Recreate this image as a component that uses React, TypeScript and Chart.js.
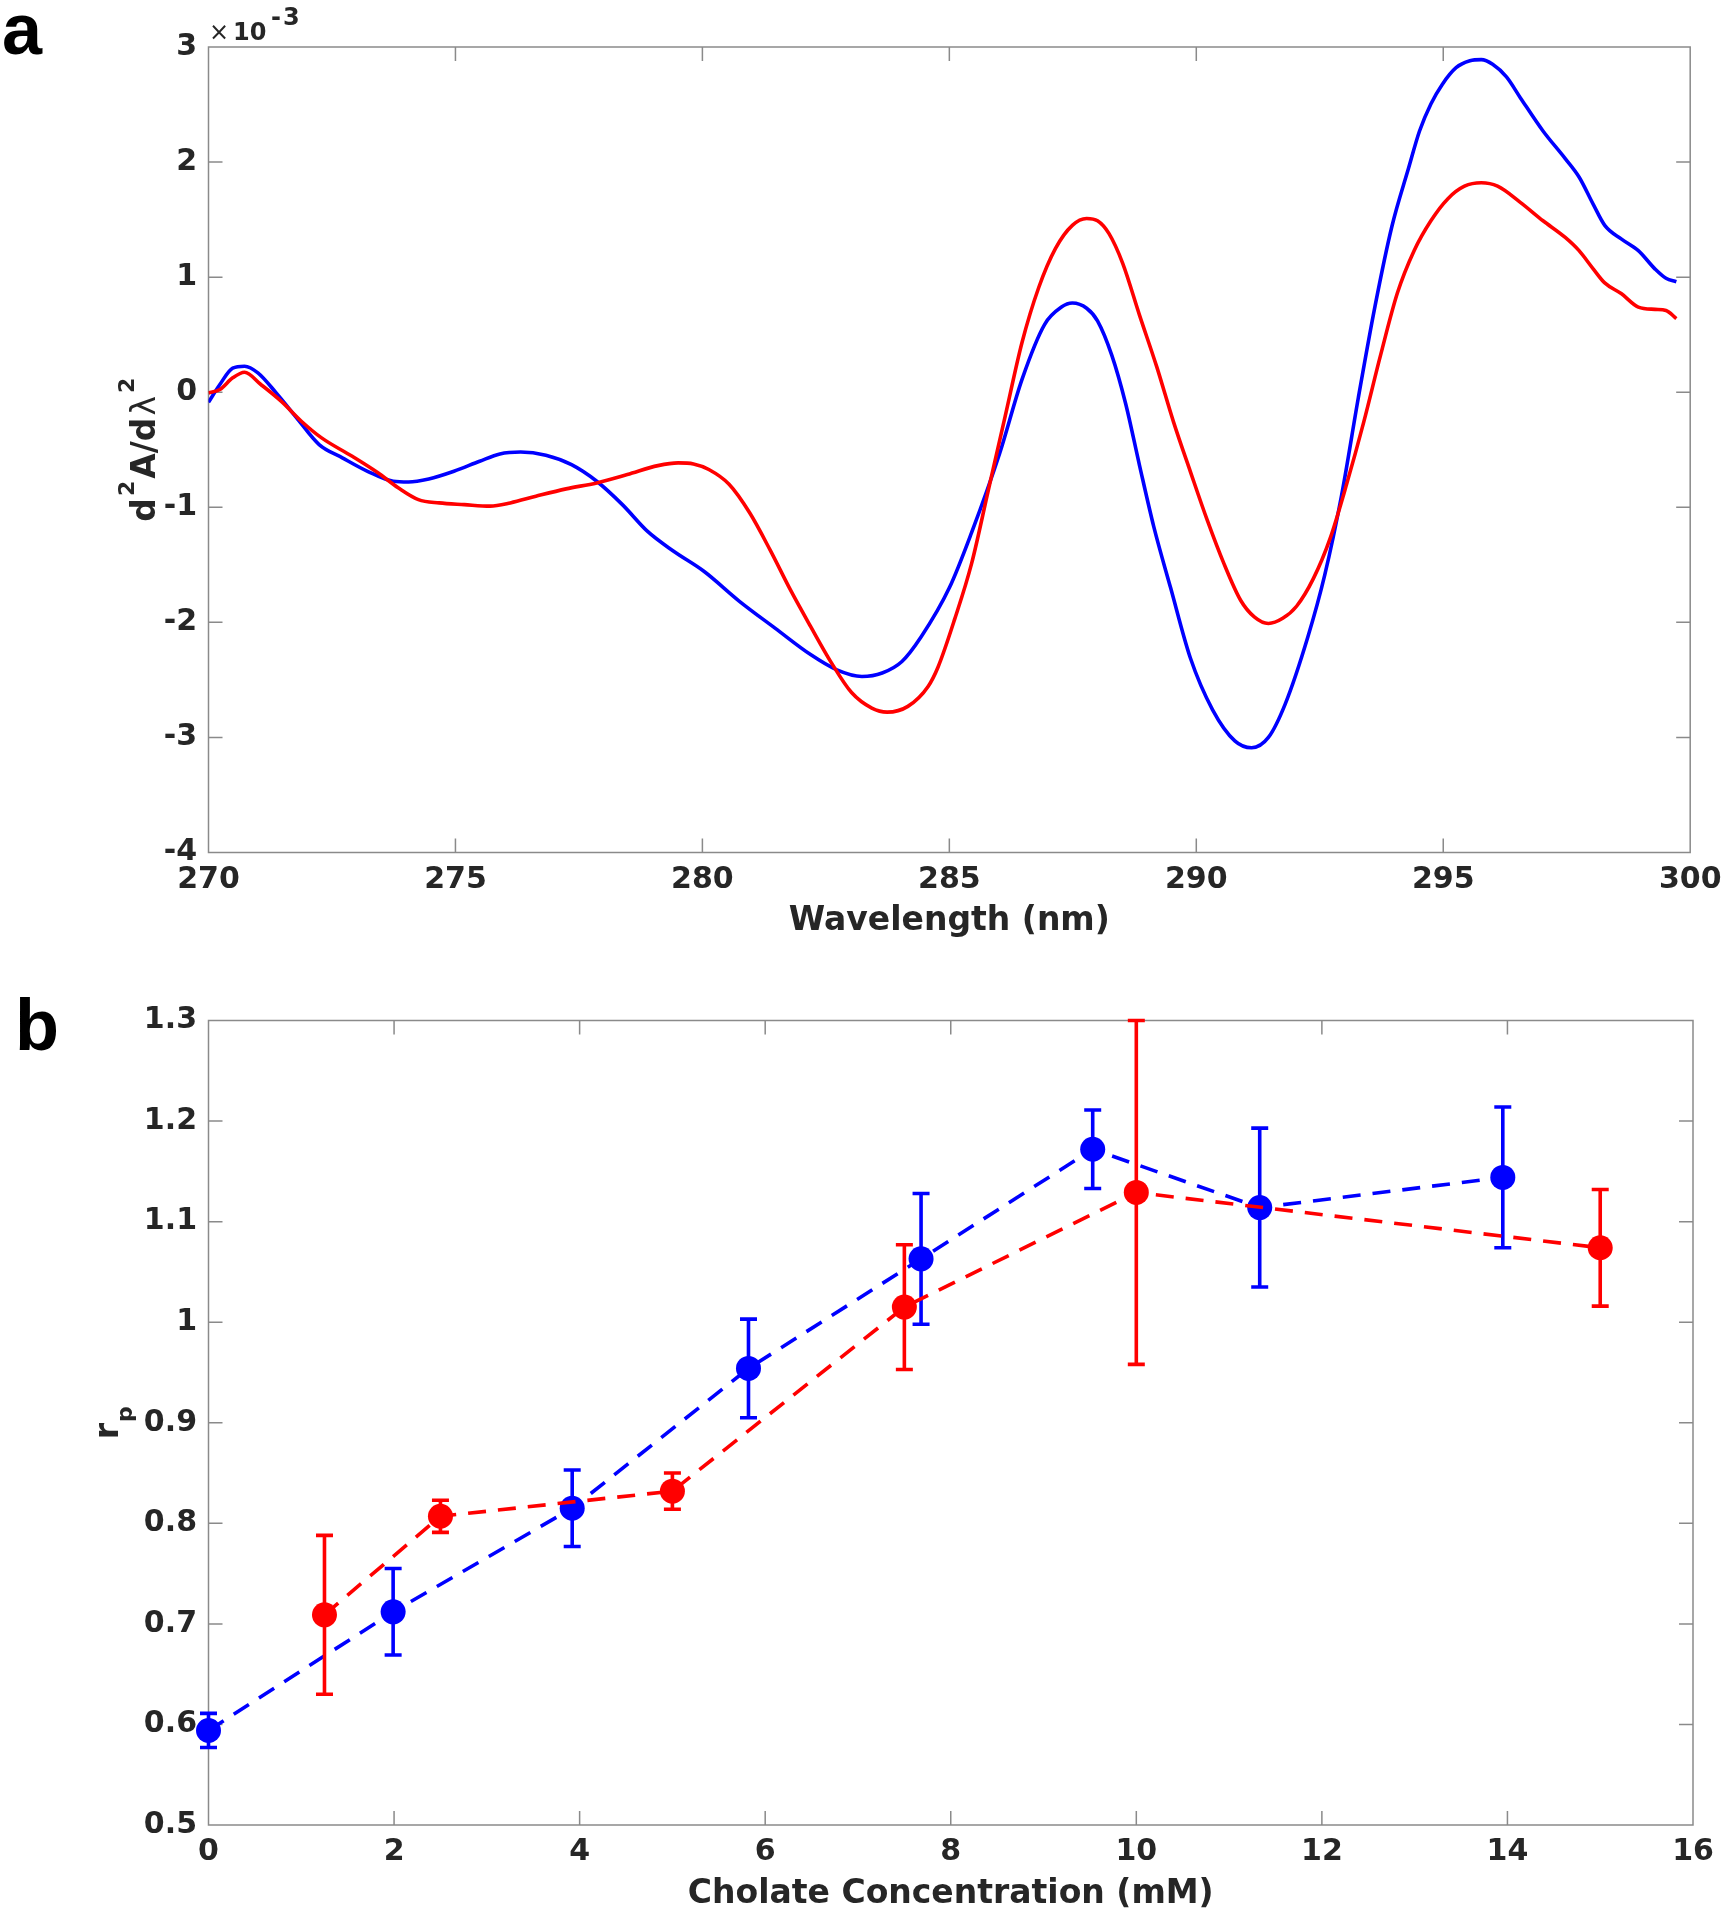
import React, { useEffect, useRef } from "react";
import { Chart, registerables } from "chart.js";

Chart.register(...registerables);

// ---------------- Panel a : second-derivative spectra (values ×10^-3) ----------------
const blueWavelength = [
  270.0, 270.23, 270.49, 270.73, 271.0, 271.37, 271.78, 272.24, 272.71, 273.22,
  273.74, 274.05, 274.46, 274.97, 275.49, 275.9, 276.32, 276.83, 277.35, 277.86,
  278.38, 278.89, 279.41, 280.03, 280.75, 281.47, 282.19, 282.71, 283.23, 283.64,
  284.04, 284.43, 285.0, 285.45, 286.02, 286.47, 286.93, 287.27, 287.49, 287.78,
  288.0, 288.29, 288.57, 288.85, 289.14, 289.48, 289.88, 290.33, 290.78, 291.12,
  291.46, 291.8, 292.26, 292.6, 292.94, 293.28, 293.62, 293.96, 294.3, 294.52,
  294.75, 294.98, 295.26, 295.54, 295.77, 296.0, 296.28, 296.56, 297.02, 297.47,
  297.75, 298.04, 298.27, 298.61, 298.95, 299.29, 299.51, 299.72,
];
const blueSecondDeriv = [
  -0.087, 0.067, 0.21, 0.226, 0.168, -0.006, -0.22, -0.455, -0.57, -0.687,
  -0.774, -0.78, -0.754, -0.687, -0.6, -0.536, -0.52, -0.548, -0.63, -0.774,
  -0.977, -1.21, -1.38, -1.556, -1.817, -2.05, -2.28, -2.41, -2.47, -2.44,
  -2.34, -2.125, -1.7, -1.22, -0.53, 0.11, 0.59, 0.74, 0.775, 0.73,
  0.62, 0.32, -0.1, -0.635, -1.17, -1.7, -2.31, -2.76, -3.03, -3.09,
  -3.0, -2.71, -2.125, -1.59, -0.9, -0.05, 0.75, 1.44, 1.95, 2.27,
  2.505, 2.675, 2.82, 2.88, 2.89, 2.85, 2.74, 2.56, 2.27, 2.03,
  1.87, 1.63, 1.45, 1.33, 1.23, 1.07, 0.99, 0.96,
];
const redWavelength = [
  270.0, 270.23, 270.49, 270.73, 271.06, 271.47, 271.88, 272.29, 272.91, 273.43,
  273.84, 274.25, 274.67, 275.18, 275.7, 276.11, 276.63, 277.24, 277.86, 278.48,
  279.1, 279.51, 279.82, 280.13, 280.54, 280.96, 281.37, 281.78, 282.19, 282.61,
  283.02, 283.43, 283.74, 284.16, 284.57, 284.77, 285.11, 285.45, 285.79, 286.13,
  286.47, 286.81, 287.15, 287.49, 287.78, 288.0, 288.23, 288.51, 288.85, 289.2,
  289.54, 289.88, 290.22, 290.56, 290.9, 291.18, 291.46, 291.75, 292.03, 292.37,
  292.71, 293.05, 293.39, 293.73, 294.07, 294.41, 294.75, 295.09, 295.43, 295.77,
  296.1, 296.56, 297.02, 297.47, 297.75, 298.04, 298.27, 298.61, 298.95, 299.29,
  299.51, 299.72,
];
const redSecondDeriv = [
  -0.006, 0.023, 0.125, 0.174, 0.067, -0.078, -0.252, -0.397, -0.557, -0.7,
  -0.83, -0.933, -0.962, -0.977, -0.99, -0.962, -0.904, -0.84, -0.788, -0.716,
  -0.638, -0.614, -0.623, -0.672, -0.8, -1.05, -1.37, -1.716, -2.035, -2.35,
  -2.61, -2.745, -2.78, -2.73, -2.557, -2.39, -1.97, -1.49, -0.85, -0.21,
  0.43, 0.91, 1.25, 1.45, 1.51, 1.49, 1.38, 1.12, 0.67, 0.22,
  -0.26, -0.69, -1.11, -1.49, -1.81, -1.955, -2.01, -1.965, -1.86, -1.62,
  -1.27, -0.79, -0.26, 0.32, 0.86, 1.23, 1.49, 1.68, 1.79, 1.82,
  1.79, 1.65, 1.49, 1.345, 1.23, 1.07, 0.95, 0.855, 0.74, 0.72,
  0.71, 0.64,
];
const wavelengthTicks = [270, 275, 280, 285, 290, 295, 300];
const derivTicks = [-4, -3, -2, -1, 0, 1, 2, 3];

// ---------------- Panel b : r_p vs cholate concentration ----------------
const blueConc = [0, 1.99, 3.92, 5.82, 7.68, 9.53, 11.33, 13.95];
const blueRp = [0.594, 0.712, 0.815, 0.954, 1.063, 1.172, 1.114, 1.144];
const blueRpErr = [0.017, 0.043, 0.038, 0.049, 0.065, 0.039, 0.079, 0.07];
const redConc = [1.25, 2.5, 5, 7.5, 10, 15];
const redRp = [0.709, 0.807, 0.832, 1.015, 1.129, 1.074];
const redRpErr = [0.079, 0.016, 0.018, 0.062, 0.171, 0.058];
const concTicks = [0, 2, 4, 6, 8, 10, 12, 14, 16];
const rpTicks = [0.5, 0.6, 0.7, 0.8, 0.9, 1.0, 1.1, 1.2, 1.3];
const rpTickLabels = ["0.5", "0.6", "0.7", "0.8", "0.9", "1", "1.1", "1.2", "1.3"];

// ---------------- styles ----------------
const BLUE = "#0000ff";
const RED = "#ff0000";
const TEXT = "#262626";
const AXIS = "#8a8a8a";
const FAM = "'DejaVu Sans', sans-serif";
const LETTER_FONT = "bold 72px 'Liberation Sans', Arial, sans-serif";
const TICK_FONT = { family: "'DejaVu Sans', sans-serif", size: 30, weight: "bold" as const };
const LINE_W = 3.6;

type Run = { t: string; font: string; dy?: number; gap?: number };
function drawRuns(ctx: CanvasRenderingContext2D, runs: Run[], x: number, y: number) {
  let total = 0;
  for (const r of runs) {
    ctx.font = r.font;
    total += ctx.measureText(r.t).width + (r.gap || 0);
  }
  let cx = x - total / 2;
  ctx.textAlign = "left";
  for (const r of runs) {
    ctx.font = r.font;
    cx += r.gap || 0;
    ctx.fillText(r.t, cx, y + (r.dy || 0));
    cx += ctx.measureText(r.t).width;
  }
}

const boxPlugin = {
  id: "matlabBox",
  beforeDatasetsDraw(chart: any) {
    const { ctx, chartArea: a } = chart;
    const xs = chart.scales.x;
    const ys = chart.scales.y;
    const tl = 14;
    ctx.save();
    ctx.strokeStyle = AXIS;
    ctx.lineWidth = 1.5;
    ctx.setLineDash([]);
    ctx.beginPath();
    ctx.rect(a.left, a.top, a.right - a.left, a.bottom - a.top);
    for (const t of xs.ticks) {
      const p = xs.getPixelForValue(t.value);
      ctx.moveTo(p, a.bottom);
      ctx.lineTo(p, a.bottom - tl);
      ctx.moveTo(p, a.top);
      ctx.lineTo(p, a.top + tl);
    }
    for (const t of ys.ticks) {
      const p = ys.getPixelForValue(t.value);
      ctx.moveTo(a.left, p);
      ctx.lineTo(a.left + tl, p);
      ctx.moveTo(a.right, p);
      ctx.lineTo(a.right - tl, p);
    }
    ctx.stroke();
    ctx.restore();
  },
};

function makeErrorBarPlugin(errors: number[][]) {
  return {
    id: "errorBars",
    afterDatasetDraw(chart: any, args: any) {
      const err = errors[args.index];
      if (!err) return;
      const ds = chart.data.datasets[args.index];
      const xs = chart.scales.x;
      const ys = chart.scales.y;
      const ctx = chart.ctx as CanvasRenderingContext2D;
      const cap = 8.5;
      ctx.save();
      ctx.strokeStyle = ds.borderColor;
      ctx.lineWidth = LINE_W;
      ctx.setLineDash([]);
      ctx.beginPath();
      ds.data.forEach((pt: any, i: number) => {
        const px = xs.getPixelForValue(pt.x);
        const top = ys.getPixelForValue(pt.y + err[i]);
        const bot = ys.getPixelForValue(pt.y - err[i]);
        ctx.moveTo(px, top);
        ctx.lineTo(px, bot);
        ctx.moveTo(px - cap, top);
        ctx.lineTo(px + cap, top);
        ctx.moveTo(px - cap, bot);
        ctx.lineTo(px + cap, bot);
      });
      ctx.stroke();
      ctx.restore();
    },
  };
}

const textPluginA = {
  id: "textA",
  afterDraw(chart: any) {
    const ctx = chart.ctx as CanvasRenderingContext2D;
    const a = chart.chartArea;
    ctx.save();
    ctx.textBaseline = "alphabetic";
    ctx.textAlign = "left";
    ctx.fillStyle = "#000";
    ctx.font = LETTER_FONT;
    ctx.fillText("a", 2, 54);
    ctx.fillStyle = TEXT;
    ctx.font = `24px ${FAM}`;
    ctx.fillText("×", 209, 40);
    ctx.font = `bold 24px ${FAM}`;
    ctx.fillText("10", 233, 40);
    ctx.fillText("-", 271, 25);
    ctx.fillText("3", 283, 25);
    ctx.font = `bold 33px ${FAM}`;
    ctx.textAlign = "center";
    ctx.fillText("Wavelength (nm)", (a.left + a.right) / 2, 930);
    ctx.translate(155, (a.top + a.bottom) / 2);
    ctx.rotate(-Math.PI / 2);
    drawRuns(
      ctx,
      [
        { t: "d", font: `bold 33px ${FAM}` },
        { t: "2", font: `bold 22px ${FAM}`, dy: -21, gap: 2 },
        { t: "A/d", font: `bold 33px ${FAM}`, gap: 2 },
        { t: "λ", font: `33px ${FAM}`, gap: 2 },
        { t: "2", font: `bold 22px ${FAM}`, dy: -21, gap: 3 },
      ],
      0,
      0
    );
    ctx.restore();
  },
};

const textPluginB = {
  id: "textB",
  afterDraw(chart: any) {
    const ctx = chart.ctx as CanvasRenderingContext2D;
    const a = chart.chartArea;
    ctx.save();
    ctx.textBaseline = "alphabetic";
    ctx.textAlign = "left";
    ctx.fillStyle = "#000";
    ctx.font = LETTER_FONT;
    ctx.fillText("b", 15, 90);
    ctx.fillStyle = TEXT;
    ctx.font = `bold 33px ${FAM}`;
    ctx.textAlign = "center";
    ctx.fillText("Cholate Concentration (mM)", (a.left + a.right) / 2, 943);
    ctx.translate(118, (a.top + a.bottom) / 2);
    ctx.rotate(-Math.PI / 2);
    drawRuns(
      ctx,
      [
        { t: "r", font: `bold 33px ${FAM}` },
        { t: "p", font: `bold 22px ${FAM}`, dy: 14, gap: 1 },
      ],
      0,
      0
    );
    ctx.restore();
  },
};

function axisCommon(
  min: number,
  max: number,
  tickValues: number[],
  labels: string[] | null,
  fit: (s: any) => void
) {
  return {
    type: "linear" as const,
    min,
    max,
    grid: { display: false, drawTicks: false },
    border: { display: false },
    ticks: {
      font: TICK_FONT,
      color: TEXT,
      autoSkip: false,
      maxRotation: 0,
      minRotation: 0,
      callback: (v: any, i: number) => (labels ? labels[i] : String(v)),
    },
    afterBuildTicks: (s: any) => {
      s.ticks = tickValues.map((v) => ({ value: v }));
    },
    afterFit: fit,
  };
}

function configA(): any {
  const x = axisCommon(270, 300, wavelengthTicks, null, (s) => {
    s.height = 107.5;
  });
  (x.ticks as any).padding = 9.5;
  const y = axisCommon(-4, 3, derivTicks, null, (s) => {
    s.width = 208.5;
  });
  (y.ticks as any).padding = 11.5;
  return {
    type: "line",
    data: {
      datasets: [
        {
          data: blueWavelength.map((w, i) => ({ x: w, y: blueSecondDeriv[i] })),
          borderColor: BLUE,
          borderWidth: LINE_W,
          pointRadius: 0,
          cubicInterpolationMode: "monotone",
          fill: false,
          order: 2,
        },
        {
          data: redWavelength.map((w, i) => ({ x: w, y: redSecondDeriv[i] })),
          borderColor: RED,
          borderWidth: LINE_W,
          pointRadius: 0,
          cubicInterpolationMode: "monotone",
          fill: false,
          order: 1,
        },
      ],
    },
    options: {
      animation: false,
      responsive: false,
      devicePixelRatio: 1,
      layout: { padding: { left: 0, right: 38, top: 47, bottom: 0 } },
      plugins: { legend: { display: false }, tooltip: { enabled: false } },
      scales: { x, y },
    },
    plugins: [boxPlugin, textPluginA],
  };
}

function configB(): any {
  const x = axisCommon(0, 16, concTicks, null, (s) => {
    s.height = 91;
  });
  (x.ticks as any).padding = 9.5;
  const y = axisCommon(0.5, 1.3, rpTicks, rpTickLabels, (s) => {
    s.width = 208.5;
  });
  (y.ticks as any).padding = 11.5;
  const common = {
    borderWidth: LINE_W,
    borderDash: [18, 12],
    pointRadius: 12.5,
    pointHoverRadius: 12.5,
    pointBorderWidth: 0,
    fill: false,
    tension: 0,
    clip: false as const,
  };
  return {
    type: "line",
    data: {
      datasets: [
        {
          ...common,
          data: blueConc.map((c, i) => ({ x: c, y: blueRp[i] })),
          borderColor: BLUE,
          backgroundColor: BLUE,
          pointBackgroundColor: BLUE,
          order: 2,
        },
        {
          ...common,
          data: redConc.map((c, i) => ({ x: c, y: redRp[i] })),
          borderColor: RED,
          backgroundColor: RED,
          pointBackgroundColor: RED,
          order: 1,
        },
      ],
    },
    options: {
      animation: false,
      responsive: false,
      devicePixelRatio: 1,
      layout: { padding: { left: 0, right: 38, top: 60.5, bottom: 0 } },
      plugins: { legend: { display: false }, tooltip: { enabled: false } },
      scales: { x, y },
    },
    plugins: [boxPlugin, makeErrorBarPlugin([blueRpErr, redRpErr]), textPluginB],
  };
}

export default function App() {
  const refA = useRef<HTMLCanvasElement>(null);
  const refB = useRef<HTMLCanvasElement>(null);
  useEffect(() => {
    const ca = new Chart(refA.current as HTMLCanvasElement, configA());
    const cb = new Chart(refB.current as HTMLCanvasElement, configB());
    return () => {
      ca.destroy();
      cb.destroy();
    };
  }, []);
  return (
    <div
      style={{
        position: "absolute",
        left: 0,
        top: 0,
        width: 1731,
        height: 1916,
        background: "#ffffff",
        overflow: "hidden",
      }}
    >
      <canvas
        ref={refA}
        width={1731}
        height={960}
        style={{ position: "absolute", left: 0, top: 0, width: 1731, height: 960 }}
      />
      <canvas
        ref={refB}
        width={1731}
        height={956}
        style={{ position: "absolute", left: 0, top: 960, width: 1731, height: 956 }}
      />
    </div>
  );
}
